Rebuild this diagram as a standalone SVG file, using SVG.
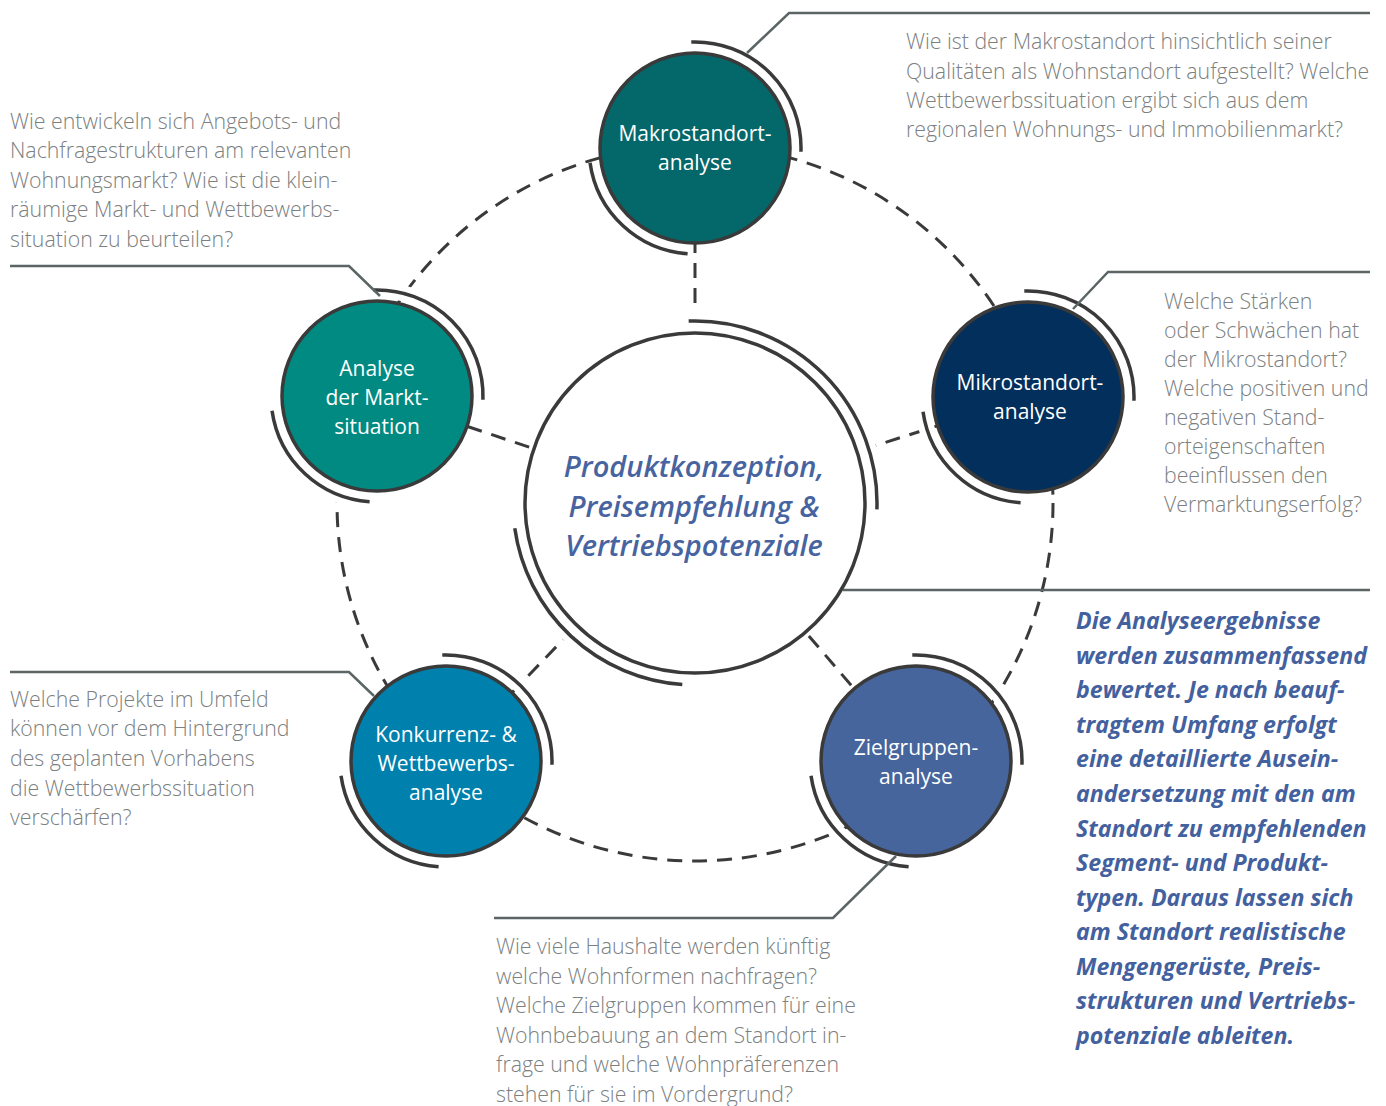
<svg xmlns="http://www.w3.org/2000/svg" xmlns:xlink="http://www.w3.org/1999/xlink" width="1386" height="1106" viewBox="0 0 1386 1106">
  <style>
    .q { font-family: "Open Sans", "Liberation Sans", sans-serif; font-weight: 300; font-size: 21.3px; fill: #7b8080; }
    .lbl { font-family: "Open Sans", "Liberation Sans", sans-serif; font-weight: 400; font-size: 21px; fill: #ffffff; text-anchor: middle; }
    .hub { font-family: "Open Sans", "Liberation Sans", sans-serif; font-weight: 600; font-style: italic; font-size: 29px; fill: #4864a0; text-anchor: middle; }
    .sum { font-family: "Open Sans", "Liberation Sans", sans-serif; font-weight: 700; font-style: italic; font-size: 23.2px; fill: #43619e; }
    .dash { fill: none; stroke: #3a3a3a; stroke-width: 3; stroke-dasharray: 15 10; }
    .arc { fill: none; stroke: #3a3a3a; stroke-width: 3.5; }
    .halo { fill: none; stroke: #ffffff; stroke-width: 16; }
    .ring { stroke: #3a3a3a; stroke-width: 3.5; }
    .lead { fill: none; stroke: #5b6565; stroke-width: 2.5; }
  </style>
  <defs>
    <!-- double arcs around a small node (radius 106) -->
    <g id="arcs-s">
      <path class="halo" d="M -3.70 -105.94 A 106 106 0 0 1 105.94 3.70 M -7.39 105.74 A 106 106 0 0 1 -104.97 14.75"/>
      <path class="arc" d="M -3.70 -105.94 A 106 106 0 0 1 105.94 3.70 M -7.39 105.74 A 106 106 0 0 1 -104.97 14.75"/>
    </g>
    <!-- double arcs around the hub (radius 182) -->
    <g id="arcs-l">
      <path class="halo" d="M -6.35 -181.89 A 182 182 0 0 1 181.89 6.35 M -12.70 181.56 A 182 182 0 0 1 -180.23 25.33"/>
      <path class="arc" d="M -6.35 -181.89 A 182 182 0 0 1 181.89 6.35 M -12.70 181.56 A 182 182 0 0 1 -180.23 25.33"/>
    </g>
  </defs>

  <rect width="1386" height="1106" fill="#ffffff"/>

  <!-- dashed ring and spokes -->
  <g id="connectors">
    <circle class="dash" cx="695" cy="503" r="358"/>
    <line class="dash" x1="695" y1="503" x2="695" y2="148"/>
    <line class="dash" x1="695" y1="503" x2="377" y2="396"/>
    <line class="dash" x1="695" y1="503" x2="1028" y2="397"/>
    <line class="dash" x1="695" y1="503" x2="446" y2="761"/>
    <line class="dash" x1="695" y1="503" x2="916" y2="761"/>
  </g>

  <g id="hub">
    <use xlink:href="#arcs-l" x="695" y="503"/>
    <circle class="ring" cx="695" cy="503" r="170" fill="#ffffff"/>
    <text class="hub" x="694" y="477">Produktkonzeption,</text>
    <text class="hub" x="694" y="516.5">Preisempfehlung &amp;</text>
    <text class="hub" x="694" y="556">Vertriebspotenziale</text>
  </g>

  <g id="makro">
    <use xlink:href="#arcs-s" x="695" y="148"/>
    <circle class="ring" cx="695" cy="148" r="95" fill="#04676a"/>
    <text class="lbl" x="695" y="141">Makrostandort-</text>
    <text class="lbl" x="695" y="170">analyse</text>
  </g>

  <g id="markt">
    <use xlink:href="#arcs-s" x="377" y="396"/>
    <circle class="ring" cx="377" cy="396" r="95" fill="#008a82"/>
    <text class="lbl" x="377" y="376">Analyse</text>
    <text class="lbl" x="377" y="405">der Markt-</text>
    <text class="lbl" x="377" y="434">situation</text>
  </g>

  <g id="mikro">
    <use xlink:href="#arcs-s" x="1028" y="397"/>
    <circle class="ring" cx="1028" cy="397" r="95" fill="#022f5c"/>
    <text class="lbl" x="1030" y="390">Mikrostandort-</text>
    <text class="lbl" x="1030" y="419">analyse</text>
  </g>

  <g id="konkurrenz">
    <use xlink:href="#arcs-s" x="446" y="761"/>
    <circle class="ring" cx="446" cy="761" r="95" fill="#0080ad"/>
    <text class="lbl" x="446" y="742">Konkurrenz- &amp;</text>
    <text class="lbl" x="446" y="771">Wettbewerbs-</text>
    <text class="lbl" x="446" y="800">analyse</text>
  </g>

  <g id="zielgruppen">
    <use xlink:href="#arcs-s" x="916" y="761"/>
    <circle class="ring" cx="916" cy="761" r="95" fill="#46659c"/>
    <text class="lbl" x="916" y="755">Zielgruppen-</text>
    <text class="lbl" x="916" y="784">analyse</text>
  </g>

  <!-- callout leaders -->
  <g id="leaders">
    <polyline class="lead" points="747,53 789,13 1370,13"/>
    <polyline class="lead" points="10,266 349,266 380,296"/>
    <polyline class="lead" points="1073,309 1108,272 1370,272"/>
    <polyline class="lead" points="10,672 349,672 374,696"/>
    <polyline class="lead" points="896,856 833,918 494,918"/>
    <polyline class="lead" points="843,590 1370,590"/>
  </g>

  <g id="text-makro">
    <text class="q" x="906" y="49.3">Wie ist der Makrostandort hinsichtlich seiner</text>
    <text class="q" x="906" y="78.7">Qualitäten als Wohnstandort aufgestellt? Welche</text>
    <text class="q" x="906" y="108">Wettbewerbssituation ergibt sich aus dem</text>
    <text class="q" x="906" y="137.3">regionalen Wohnungs- und Immobilienmarkt?</text>
  </g>

  <g id="text-markt">
    <text class="q" x="10" y="129">Wie entwickeln sich Angebots- und</text>
    <text class="q" x="10" y="158.4">Nachfragestrukturen am relevanten</text>
    <text class="q" x="10" y="187.8">Wohnungsmarkt? Wie ist die klein-</text>
    <text class="q" x="10" y="217.2">räumige Markt- und Wettbewerbs-</text>
    <text class="q" x="10" y="246.6">situation zu beurteilen?</text>
  </g>

  <g id="text-mikro">
    <text class="q" x="1164" y="309">Welche Stärken</text>
    <text class="q" x="1164" y="338">oder Schwächen hat</text>
    <text class="q" x="1164" y="367">der Mikrostandort?</text>
    <text class="q" x="1164" y="396">Welche positiven und</text>
    <text class="q" x="1164" y="425">negativen Stand-</text>
    <text class="q" x="1164" y="454">orteigenschaften</text>
    <text class="q" x="1164" y="483">beeinflussen den</text>
    <text class="q" x="1164" y="512">Vermarktungserfolg?</text>
  </g>

  <g id="text-konkurrenz">
    <text class="q" x="10" y="706.7">Welche Projekte im Umfeld</text>
    <text class="q" x="10" y="736.3">können vor dem Hintergrund</text>
    <text class="q" x="10" y="765.9">des geplanten Vorhabens</text>
    <text class="q" x="10" y="795.5">die Wettbewerbssituation</text>
    <text class="q" x="10" y="825">verschärfen?</text>
  </g>

  <g id="text-zielgruppen">
    <text class="q" x="496" y="954">Wie viele Haushalte werden künftig</text>
    <text class="q" x="496" y="983.5">welche Wohnformen nachfragen?</text>
    <text class="q" x="496" y="1013">Welche Zielgruppen kommen für eine</text>
    <text class="q" x="496" y="1042.5">Wohnbebauung an dem Standort in-</text>
    <text class="q" x="496" y="1072">frage und welche Wohnpräferenzen</text>
    <text class="q" x="496" y="1101.5">stehen für sie im Vordergrund?</text>
  </g>

  <g id="text-ergebnis">
    <text class="sum" x="1076" y="629">Die Analyseergebnisse</text>
    <text class="sum" x="1076" y="663.6">werden zusammenfassend</text>
    <text class="sum" x="1076" y="698.2">bewertet. Je nach beauf-</text>
    <text class="sum" x="1076" y="732.7">tragtem Umfang erfolgt</text>
    <text class="sum" x="1076" y="767.3">eine detaillierte Ausein-</text>
    <text class="sum" x="1076" y="801.9">andersetzung mit den am</text>
    <text class="sum" x="1076" y="836.5">Standort zu empfehlenden</text>
    <text class="sum" x="1076" y="871.1">Segment- und Produkt-</text>
    <text class="sum" x="1076" y="905.6">typen. Daraus lassen sich</text>
    <text class="sum" x="1076" y="940.2">am Standort realistische</text>
    <text class="sum" x="1076" y="974.8">Mengengerüste, Preis-</text>
    <text class="sum" x="1076" y="1009.4">strukturen und Vertriebs-</text>
    <text class="sum" x="1076" y="1044">potenziale ableiten.</text>
  </g>
</svg>
